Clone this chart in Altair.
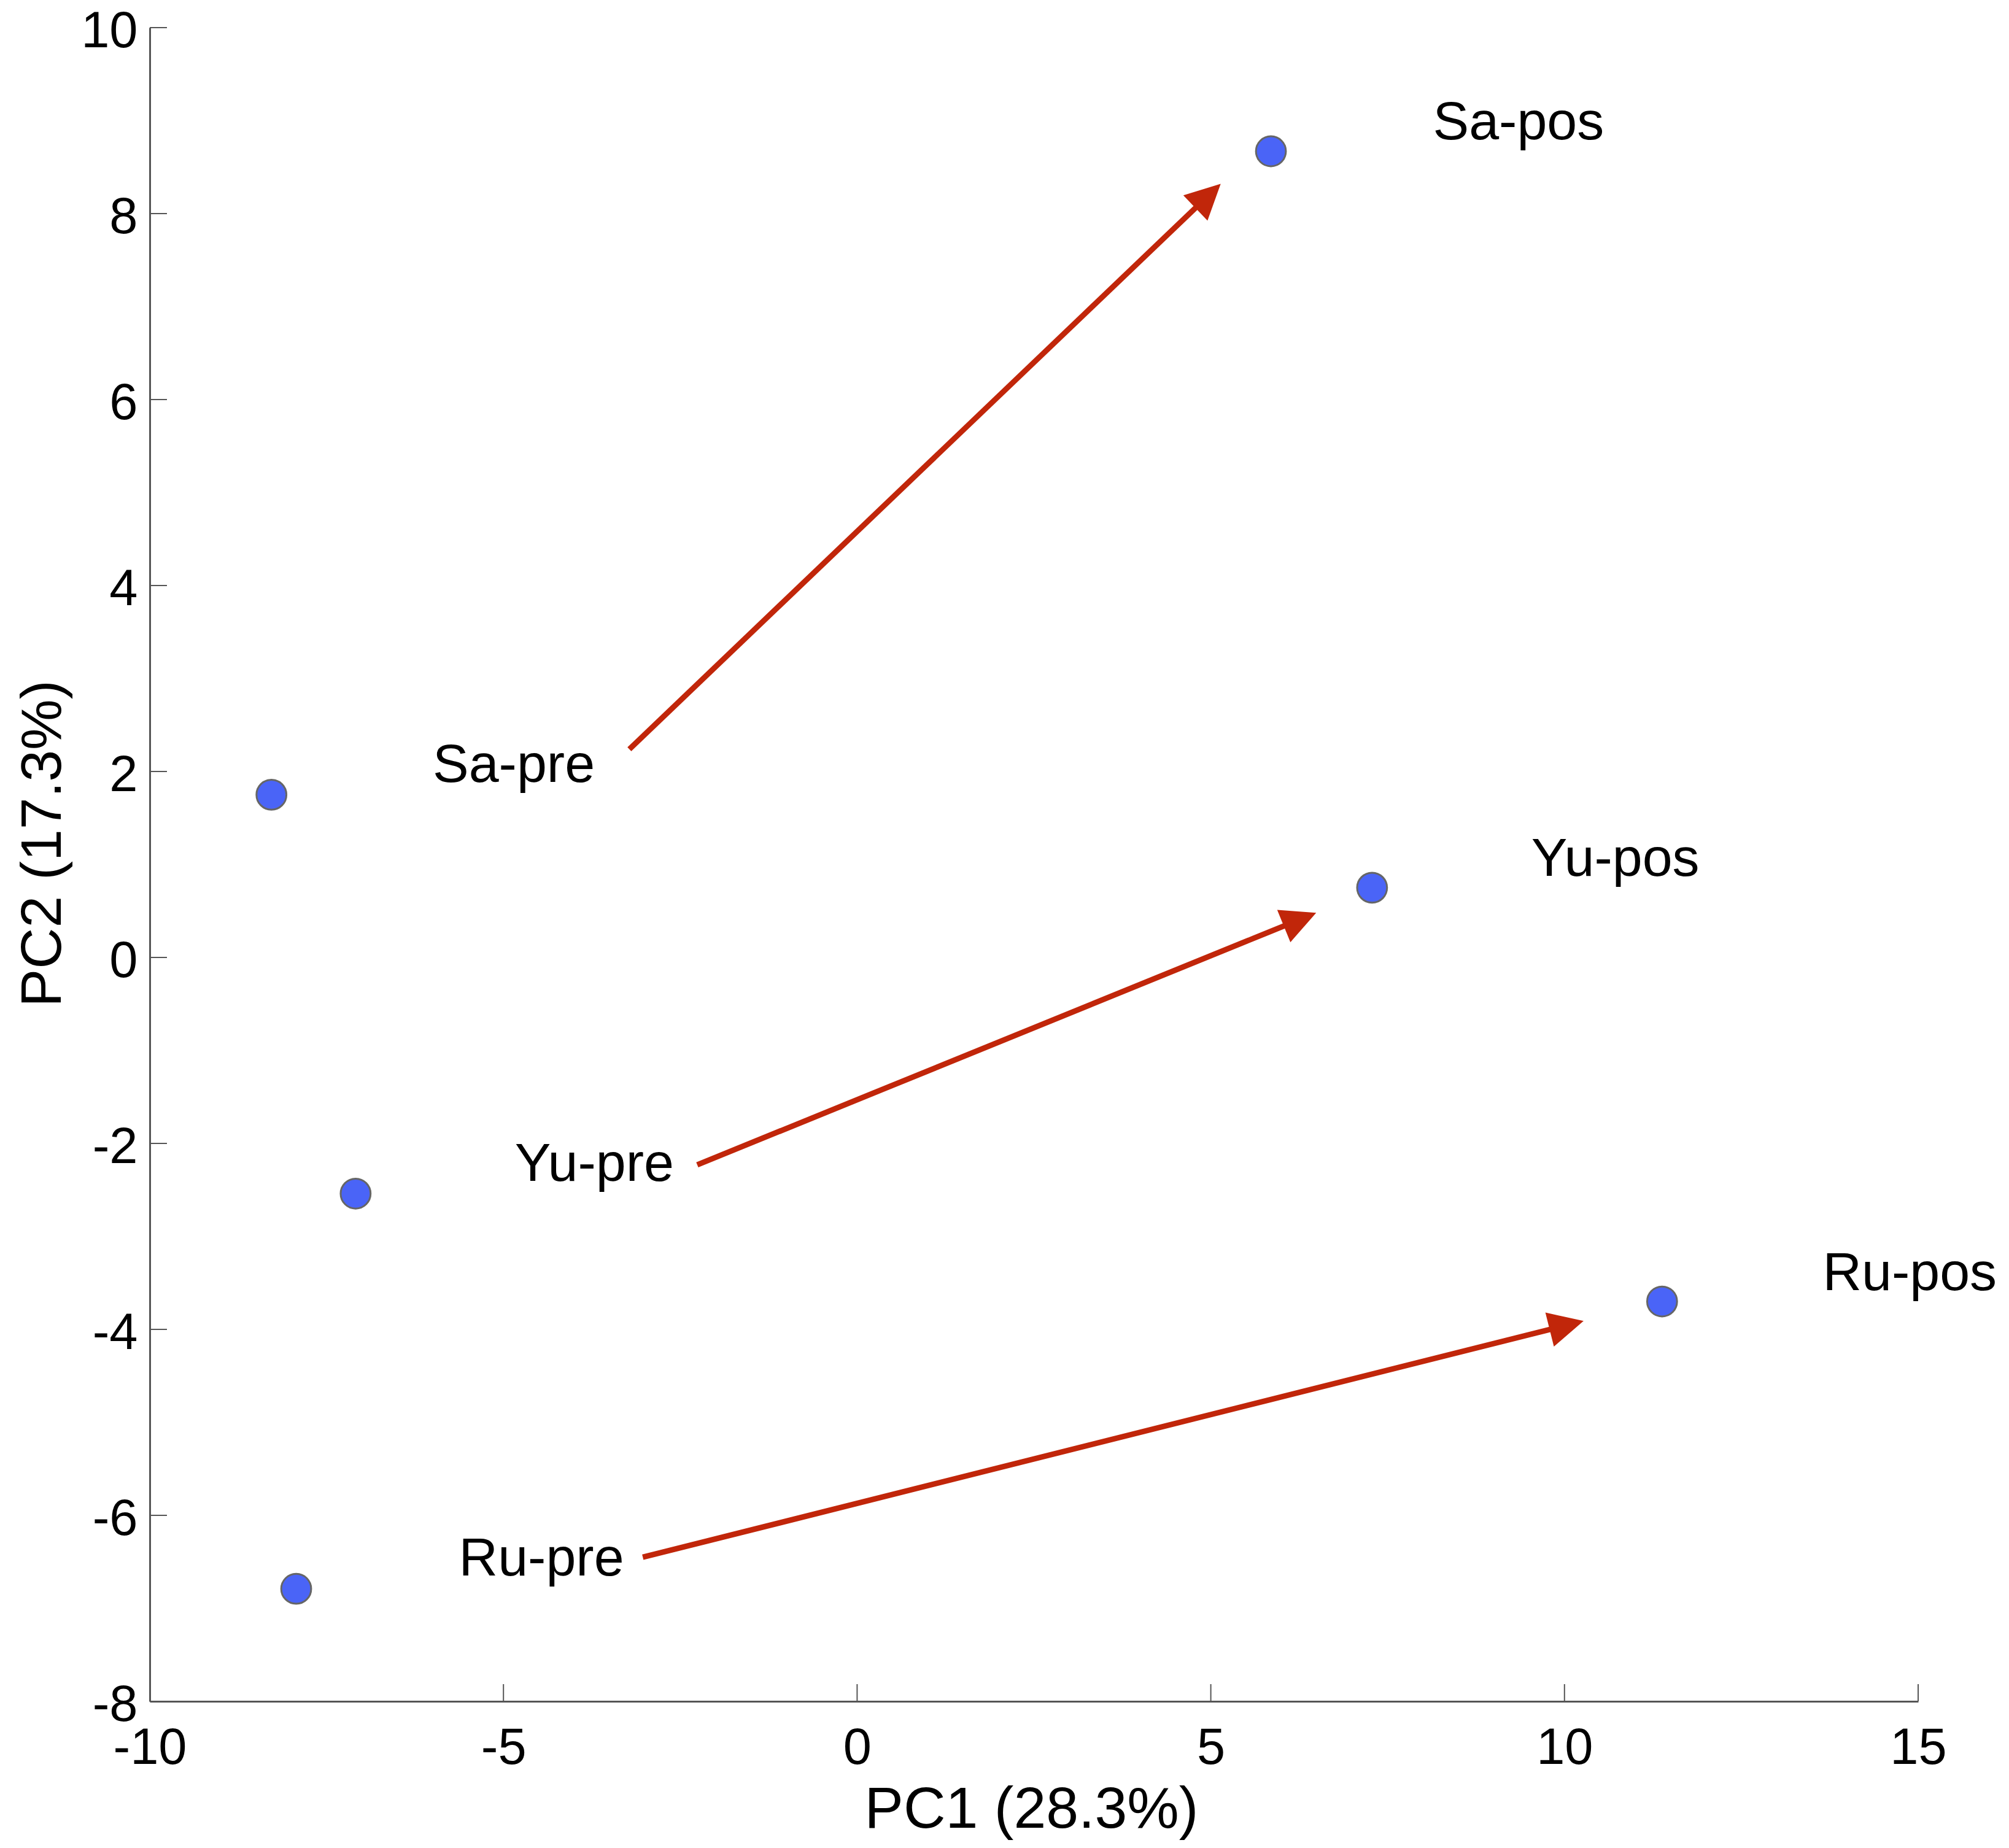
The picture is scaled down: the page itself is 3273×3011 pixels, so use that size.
import math
import altair as alt
import pandas as pd

# ---- data ----
names = ["Sa-pre", "Sa-pos", "Yu-pre", "Yu-pos", "Ru-pre", "Ru-pos"]
pc1 = [-8.28, 5.85, -7.09, 7.28, -7.93, 11.38]
pc2 = [1.75, 8.67, -2.54, 0.75, -6.79, -3.70]
label_x = [-6.00, 8.14, -4.84, 9.53, -5.63, 13.65]
label_y = [1.89, 8.80, -2.40, 0.88, -6.65, -3.58]

arrow_groups = ["Sa", "Yu", "Ru"]
arrow_x_start = [-3.22, -2.26, -3.03]
arrow_y_start = [2.24, -2.23, -6.45]
arrow_x_end = [5.14, 6.49, 10.27]
arrow_y_end = [8.32, 0.48, -3.91]

x_ticks = [-10, -5, 0, 5, 10, 15]
y_ticks = [-8, -6, -4, -2, 0, 2, 4, 6, 8, 10]

# ---- layout / style ----
W, H = 2881, 2727
X_DOM, Y_DOM = [-10, 15], [-8, 10]
sx = W / (X_DOM[1] - X_DOM[0])
sy = H / (Y_DOM[1] - Y_DOM[0])
FONT = "Liberation Sans"
RED = "#C1260A"
BLUE = "#4A64F7"
AXIS_C = "#555555"
TICK_LEN = 28
HEAD_BACK = 34

points = pd.DataFrame({"name": names, "pc1": pc1, "pc2": pc2,
                       "lx": label_x, "ly": label_y})

rows = []
for g, xs_, ys_, xe, ye in zip(arrow_groups, arrow_x_start, arrow_y_start,
                               arrow_x_end, arrow_y_end):
    dxp = (xe - xs_) * sx
    dyp = -(ye - ys_) * sy
    L = math.hypot(dxp, dyp)
    ang = math.degrees(math.atan2(dyp, dxp)) % 360
    x_shaft = xe - (dxp / L * HEAD_BACK) / sx
    y_shaft = ye + (dyp / L * HEAD_BACK) / sy
    rows.append({"g": g, "xs": xs_, "ys": ys_, "xe": xe, "ye": ye,
                 "xsh": x_shaft, "ysh": y_shaft, "angle": ang})
arrows = pd.DataFrame(rows)

xscale = alt.Scale(domain=X_DOM, nice=False, zero=False)
yscale = alt.Scale(domain=Y_DOM, nice=False, zero=False)

xaxis = alt.Axis(values=x_ticks, title="PC1 (28.3%)", ticks=False, tickSize=0,
                 grid=False, domainColor=AXIS_C, domainWidth=3,
                 labelFont=FONT, labelFontSize=83, labelColor="black",
                 labelBaseline="alphabetic", labelPadding=101, labelFlush=False,
                 labelExpr="toString(datum.value)",
                 titleFont=FONT, titleFontSize=95, titleFontWeight="normal",
                 titleColor="black", titleBaseline="alphabetic",
                 titleY=205, titleX=1436, titleAlign="center")
yaxis = alt.Axis(values=y_ticks, title="PC2 (17.3%)", ticks=False, tickSize=0,
                 grid=False, domainColor=AXIS_C, domainWidth=3,
                 labelFont=FONT, labelFontSize=83, labelColor="black",
                 labelBaseline="middle", labelPadding=20, labelOffset=6,
                 labelFlush=False, labelExpr="toString(datum.value)",
                 titleFont=FONT, titleFontSize=93, titleFontWeight="normal",
                 titleColor="black", titleBaseline="alphabetic",
                 titleX=-146, titleY=1329, titleAlign="center", titleAngle=270)


def X(f):
    return alt.X(f, type="quantitative", scale=xscale, axis=xaxis)


def Y(f):
    return alt.Y(f, type="quantitative", scale=yscale, axis=yaxis)


xt = pd.DataFrame({"v": x_ticks})
yt = pd.DataFrame({"v": y_ticks})

x_tick_rules = alt.Chart(xt).mark_rule(color=AXIS_C, strokeWidth=2).encode(
    x=X("v"), y=alt.value(H), y2=alt.value(H - TICK_LEN))
y_tick_rules = alt.Chart(yt).mark_rule(color=AXIS_C, strokeWidth=2).encode(
    y=Y("v"), x=alt.value(0), x2=alt.value(TICK_LEN))

shafts = alt.Chart(arrows).mark_rule(color=RED, strokeWidth=9).encode(
    x=X("xs"), y=Y("ys"), x2=alt.X2("xsh"), y2=alt.Y2("ysh"))

heads = alt.Chart(arrows).mark_point(
    shape="M0,0L-2,-1L-2,1Z", filled=True, fill=RED, opacity=1,
    strokeWidth=0, size=57 * 57).encode(
    x=X("xe"), y=Y("ye"), angle=alt.Angle("angle:Q", scale=None))

dots = alt.Chart(points).mark_circle(
    fill=BLUE, stroke="#666666", strokeWidth=3, opacity=1, fillOpacity=1,
    size=2376).encode(x=X("pc1"), y=Y("pc2"))

labels = alt.Chart(points).mark_text(
    align="left", baseline="alphabetic", font=FONT, fontSize=88,
    color="black").encode(x=X("lx"), y=Y("ly"), text="name:N")

chart = alt.layer(x_tick_rules, y_tick_rules, shafts, heads, dots, labels).properties(
    width=W, height=H,
    background="white",
    autosize=alt.AutoSizeParams(type="none"),
    padding={"left": 236, "top": 37, "right": 140, "bottom": 230},
).configure_view(stroke="transparent", strokeWidth=0)

chart.save("out.html", embed_options={"renderer": "svg", "actions": False})
